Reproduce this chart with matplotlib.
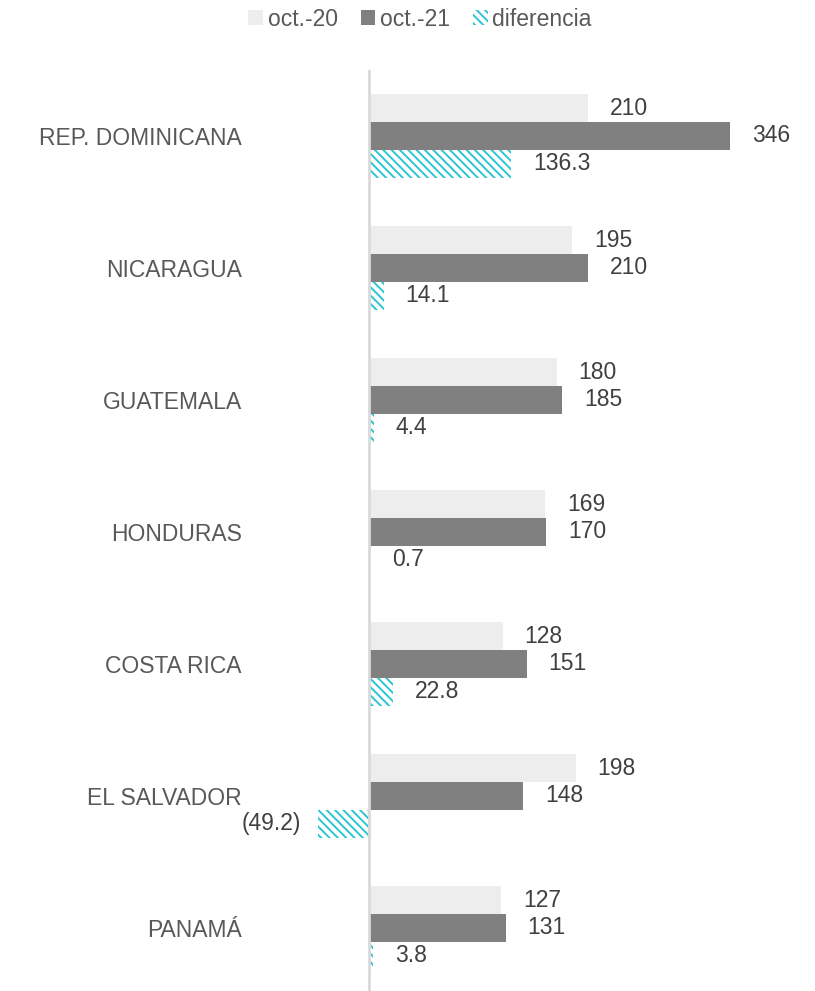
import matplotlib.pyplot as plt
import numpy as np

plt.rcParams['font.family'] = ['Liberation Sans', 'DejaVu Sans']
plt.rcParams['hatch.linewidth'] = 1.4

paises = ["REP. DOMINICANA", "NICARAGUA", "GUATEMALA", "HONDURAS",
          "COSTA RICA", "EL SALVADOR", "PANAMÁ"]
oct20 = [210, 195, 180, 169, 128, 198, 127]
oct21 = [346, 210, 185, 170, 151, 148, 131]
diferencia = [136.3, 14.1, 4.4, 0.7, 22.8, -49.2, 3.8]

c20 = "#EDEDED"
c21 = "#808080"
cdif = "#2BC5D3"
txt = "#404040"

fig = plt.figure(figsize=(8.15, 9.91), dpi=100)
# axes covers px rows 70..994 (slightly past the bottom edge)
ax = fig.add_axes([250 / 815, -3 / 991, 550 / 815, 924 / 991])

y = np.arange(len(paises))
h = 0.21
ax.barh(y - h, oct20, height=h, color=c20, label="oct.-20")
ax.barh(y, oct21, height=h, color=c21, label="oct.-21")
ax.barh(y + h, diferencia, height=h, color="white", edgecolor=cdif,
        hatch="\\\\\\\\", linewidth=0, label="diferencia")

def fmt(v):
    if isinstance(v, float):
        return f"({abs(v):.1f})" if v < 0 else f"{v:.1f}"
    return str(v)

for i in range(len(paises)):
    for v, off in ((oct20[i], -h), (oct21[i], 0), (diferencia[i], h)):
        if v < 0:
            ax.text(v - 16, i + off, fmt(v), ha="right", va="center",
                    fontsize=16.5, color=txt)
        else:
            ax.text(v + 21, i + off, fmt(v), ha="left", va="center",
                    fontsize=16.5, color=txt)

ax.set_xlim(-114.1, 413.2)
ax.set_ylim(6.5, -0.5)
ax.set_yticks(y)
ax.set_yticklabels(paises, fontsize=16.5, color="#595959")
ax.tick_params(axis="y", length=0, pad=6)
ax.set_xticks([])
for s in ax.spines.values():
    s.set_visible(False)
ax.axvline(0, color="#D9D9D9", linewidth=2)

fig.legend(loc="upper center", bbox_to_anchor=(420 / 815, 1.013), ncol=3,
           frameon=False, fontsize=16.5, labelcolor="#595959",
           handlelength=0.65, handleheight=0.65, handletextpad=0.2,
           columnspacing=1.0)

fig.savefig("out.png", dpi=100)
